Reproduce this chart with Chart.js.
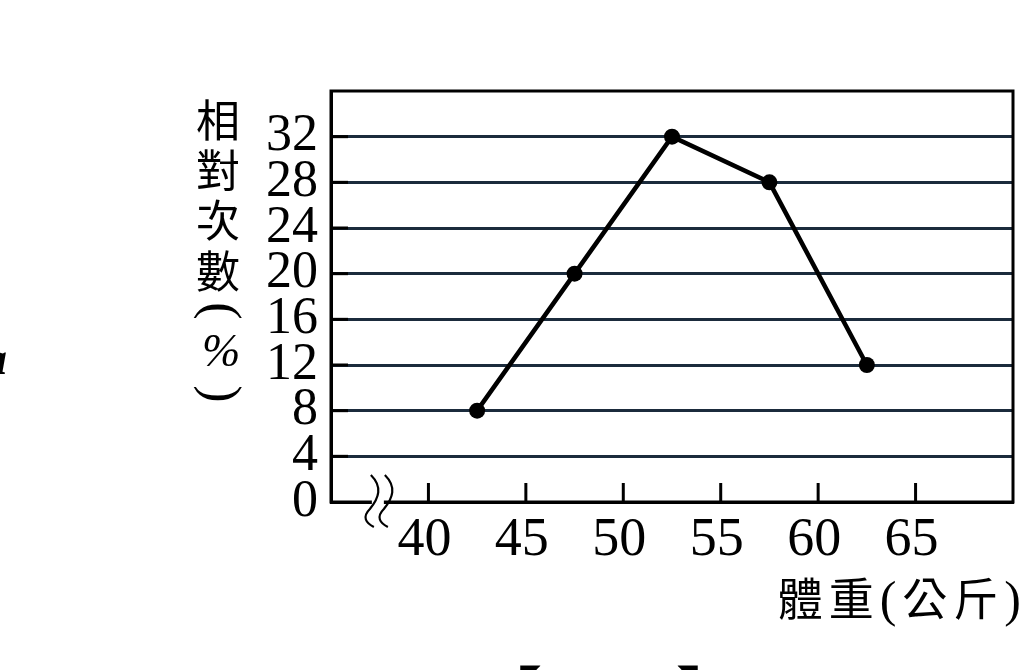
<!DOCTYPE html>
<html>
<head>
<meta charset="utf-8">
<script src="https://cdn.jsdelivr.net/npm/chart.js@4.4.1/dist/chart.umd.min.js"></script>
<style>
  html, body { margin: 0; padding: 0; background: #fff; overflow: hidden; }
  #wrap { position: relative; width: 1033px; height: 670px; overflow: hidden; }
  #chart-canvas { position: absolute; left: 0; top: 0; }
  .t { position: absolute; color: #000; white-space: nowrap; line-height: 1; }
  .cjk { font-family: "Noto Sans CJK TC", "Noto Sans CJK SC", sans-serif; font-weight: 400; }
  .serif { font-family: "Liberation Serif", "DejaVu Serif", serif; }
  .rot { transform: rotate(90deg); transform-origin: center center; }
</style>
</head>
<body>
<div id="wrap">
  <canvas id="chart-canvas" width="1033" height="670"></canvas>

  <!-- y axis title, stacked -->
  <div class="t cjk" style="left:196px;top:96px;font-size:44px;">相</div>
  <div class="t cjk" style="left:196px;top:146px;font-size:44px;">對</div>
  <div class="t cjk" style="left:196px;top:196px;font-size:44px;">次</div>
  <div class="t cjk" style="left:196px;top:247px;font-size:44px;">數</div>
  <div class="t serif rot" style="left:213px;top:285px;font-size:52px;">(</div>
  <div class="t serif" style="left:202px;top:328px;font-size:46px;font-style:italic;">%</div>
  <div class="t serif rot" style="left:213px;top:368px;font-size:52px;">)</div>

  <!-- x axis title -->
  <div class="t" style="right:6px;top:574px;font-size:45px;letter-spacing:6px;">
    <span class="cjk">體重</span><span class="serif" style="font-size:50px;">(</span><span class="cjk">公斤</span><span class="serif" style="font-size:50px;">)</span>
  </div>

  <!-- fragments cut at the page edges -->
  <div class="t serif" style="left:-16px;top:336px;font-size:46px;font-style:italic;font-weight:bold;">a</div>
  <div class="t cjk" style="left:478px;top:660px;font-size:64px;font-weight:700;">【</div>
  <div class="t cjk" style="left:676px;top:660px;font-size:64px;font-weight:700;">】</div>
</div>

<script>
// data
const weightTicks = [40, 45, 50, 55, 60, 65];
const weightMid = [42.5, 47.5, 52.5, 57.5, 62.5];
const relFreq = [8, 20, 32, 28, 12];
const freqTicks = [0, 4, 8, 12, 16, 20, 24, 28, 32];

const serif = '"Liberation Serif", "DejaVu Serif", serif';

// box, inward ticks and the axis break
const framePlugin = {
  id: 'frame',
  beforeDatasetsDraw(chart) {
    const { ctx, chartArea: a, scales } = chart;
    ctx.save();
    ctx.strokeStyle = '#000';
    ctx.lineWidth = 3;
    ctx.lineCap = 'butt';

    // y ticks, black stubs at the left end of each grid line
    freqTicks.forEach(v => {
      if (v === 0) return;
      const y = scales.y.getPixelForValue(v);
      ctx.beginPath();
      ctx.moveTo(a.left, y);
      ctx.lineTo(a.left + 17, y);
      ctx.stroke();
    });

    // x ticks, pointing up into the plot
    weightTicks.forEach(v => {
      const x = scales.x.getPixelForValue(v);
      ctx.beginPath();
      ctx.moveTo(x, a.bottom);
      ctx.lineTo(x, a.bottom - 19);
      ctx.stroke();
    });

    ctx.strokeRect(a.left, a.top, a.right - a.left, a.bottom - a.top);

    // break mark on the x axis
    const bx = scales.x.getPixelForValue(37.2);
    const by = a.bottom;
    ctx.fillStyle = '#fff';
    ctx.fillRect(bx - 2, by - 3, 12, 6);
    ctx.lineWidth = 2.2;
    [0, 14].forEach(dx => {
      const x0 = bx - 3 + dx;
      ctx.beginPath();
      ctx.moveTo(x0, by - 27);
      ctx.bezierCurveTo(x0 + 12, by - 15, x0 + 8, by - 4, x0 - 1, by + 7);
      ctx.bezierCurveTo(x0 - 9, by + 15, x0 - 5, by + 21, x0 + 3, by + 25);
      ctx.stroke();
    });
    ctx.restore();
  }
};

const ctx = document.getElementById('chart-canvas');

new Chart(ctx, {
  type: 'scatter',
  data: {
    datasets: [{
      data: weightMid.map((x, i) => ({ x, y: relFreq[i] })),
      showLine: true,
      borderColor: '#000',
      backgroundColor: '#000',
      borderWidth: 4.5,
      pointRadius: 8,
      pointBackgroundColor: '#000',
      pointBorderWidth: 0,
      tension: 0,
    }],
  },
  options: {
    responsive: false,
    animation: false,
    devicePixelRatio: 1,
    layout: { padding: { left: 0, right: 20, top: 91, bottom: 0 } },
    plugins: {
      legend: { display: false },
      tooltip: { enabled: false },
    },
    scales: {
      x: {
        type: 'linear',
        min: 35,
        max: 70,
        afterBuildTicks(s) { s.ticks = weightTicks.map(v => ({ value: v })); },
        afterFit(s) { s.height = 168; },
        grid: { display: false, drawTicks: false },
        border: { color: '#000', width: 3 },
        ticks: {
          color: '#000',
          padding: 6,
          labelOffset: -4,
          maxRotation: 0,
          autoSkip: false,
          font: { family: serif, size: 54 },
        },
      },
      y: {
        min: 0,
        max: 36,
        afterBuildTicks(s) { s.ticks = freqTicks.map(v => ({ value: v })); },
        afterFit(s) { s.width = 331; },
        grid: { color: '#1b2b3c', lineWidth: 3, drawTicks: false },
        border: { color: '#000', width: 3 },
        ticks: {
          color: '#000',
          padding: 13,
          autoSkip: false,
          font: { family: serif, size: 52, lineHeight: 1 },
        },
      },
    },
  },
  plugins: [framePlugin],
});
</script>
</body>
</html>
